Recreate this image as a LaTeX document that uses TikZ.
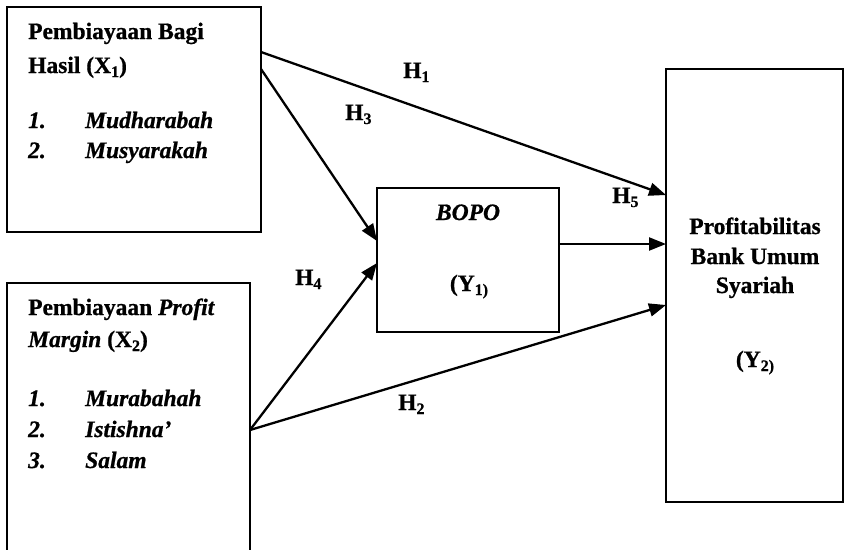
\documentclass[tikz,border=0pt]{standalone}
\usepackage{fontspec}
\setmainfont{Liberation Serif}[BoldFeatures={FakeBold=0.8},BoldItalicFeatures={FakeBold=0.8}]
\usetikzlibrary{arrows.meta,calc}
% lowered, smaller index as set in the labels
\newcommand\idx[1]{\raisebox{-4pt}{\fontsize{16}{16}\selectfont #1}}
\begin{document}
\begin{tikzpicture}[x=1pt,y=-1pt,
  box/.style={draw,line width=2.1pt,inner sep=0pt,outer sep=0pt,anchor=north west},
  txt/.style={inner sep=0pt,anchor=base west,font=\fontsize{23.5}{28}\selectfont\bfseries},
  ctxt/.style={txt,anchor=base},
  link/.style={line width=2.3pt,-{Triangle[length=17pt,width=13pt]}}]
\useasboundingbox (0,0) rectangle (845,549);
\fill[white] (0,0) rectangle (845,549);
\clip (0,0) rectangle (845,549);

% boxes
\node[box,minimum width=254pt,minimum height=225pt] (x1) at (7,7) {};
\node[box,minimum width=243pt,minimum height=330pt] (x2) at (7,283) {};
\node[box,minimum width=182pt,minimum height=144pt] (bopo) at (377,188) {};
\node[box,minimum width=177pt,minimum height=433pt] (y2) at (666,69) {};

% text of the first independent variable
\node[txt] (x1a) at (28,39) {Pembiayaan Bagi};
\node[txt] (x1b) at (28,73) {Hasil (X\idx{1})};
\node[txt] (x1n1) at (28,128) {\itshape 1.};
\node[txt] (x1i1) at (85,128) {\itshape Mudharabah};
\node[txt] (x1n2) at (28,158) {\itshape 2.};
\node[txt] (x1i2) at (85,158) {\itshape Musyarakah};

% text of the second independent variable
\node[txt] (x2a) at (28,315) {Pembiayaan \textit{Profit}};
\node[txt] (x2b) at (28,347) {\textit{Margin} (X\idx{2})};
\node[txt] (x2n1) at (28,406) {\itshape 1.};
\node[txt] (x2i1) at (85,406) {\itshape Murabahah};
\node[txt] (x2n2) at (28,437) {\itshape 2.};
\node[txt] (x2i2) at (85,437) {\itshape Istishna’};
\node[txt] (x2n3) at (28,468) {\itshape 3.};
\node[txt] (x2i3) at (85,468) {\itshape Salam};

% intervening variable
\node[ctxt] (bopoa) at (468,220) {\itshape BOPO};
\node[ctxt] (bopob) at (469,291) {(Y\idx{1)}};

% dependent variable
\node[ctxt] (y2a) at (755,234) {Profitabilitas};
\node[ctxt] (y2b) at (755,264) {Bank Umum};
\node[ctxt] (y2c) at (755,293) {Syariah};
\node[ctxt] (y2d) at (755,367) {(Y\idx{2)}};

% connector end points on the box borders
\coordinate (h1s) at ($(x1.north east)+(0,45)$);
\coordinate (h3s) at ($(x1.north east)+(0,62)$);
\coordinate (h3e) at ($(bopo.north west)+(0,53)$);
\coordinate (h4e) at ($(bopo.north west)+(0,75)$);
\coordinate (h5s) at ($(bopo.north east)+(0,56)$);
\coordinate (h1e) at ($(y2.north west)+(0,126)$);
\coordinate (h5e) at ($(y2.north west)+(0,175)$);
\coordinate (h2e) at ($(y2.north west)+(0,236)$);
\coordinate (x2s) at ($(x2.north east)+(0,147)$);

\draw[link] (h1s) -- (h1e);
\draw[link] (h3s) -- (h3e);
\draw[link] (x2s) -- (h4e);
\draw[link] (x2s) -- (h2e);
\draw[link] (h5s) -- (h5e);

% hypothesis labels
\node[txt] (lh1) at (403,78) {H\idx{1}};
\node[txt] (lh3) at (345,120) {H\idx{3}};
\node[txt] (lh5) at (612,203) {H\idx{5}};
\node[txt] (lh4) at (295,285) {H\idx{4}};
\node[txt] (lh2) at (398,410) {H\idx{2}};
\end{tikzpicture}
\end{document}
